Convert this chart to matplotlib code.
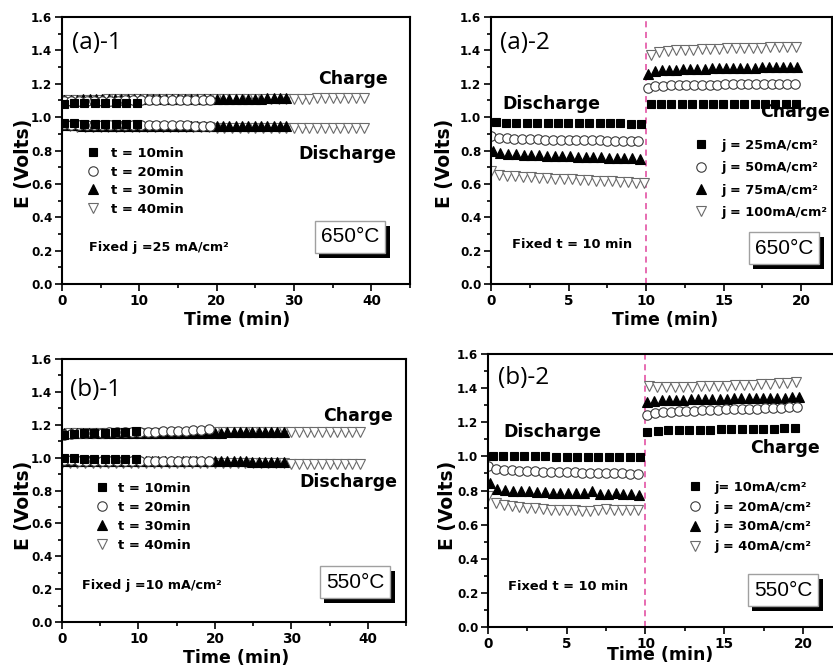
import numpy as np
import matplotlib
matplotlib.use("Agg")
import matplotlib.pyplot as plt
from matplotlib.lines import Line2D
from matplotlib.ticker import MultipleLocator, FormatStrFormatter
import matplotlib.patheffects as pe

# ---------------- DATA ----------------
# Panel (a)-1 : 650 C, fixed j = 25 mA/cm2, different charge/discharge times
A1_LABELS = ["t = 10min", "t = 20min", "t = 30min", "t = 40min"]
A1_T_START = [0.2, 0.2, 0.3, 0.0]
A1_T_STEP = [1.35, 1.0, 0.82, 1.0]
A1_CHARGE = [
    [1.080, 1.082, 1.083, 1.083, 1.084, 1.085, 1.085, 1.086],
    [1.094, 1.096, 1.097, 1.098, 1.098, 1.099, 1.099, 1.099, 1.100, 1.100,
     1.100, 1.100, 1.101, 1.101, 1.101, 1.101, 1.102, 1.102, 1.102, 1.102],
    [1.104, 1.105, 1.105, 1.106, 1.106, 1.106, 1.107, 1.107, 1.107, 1.107,
     1.108, 1.108, 1.108, 1.108, 1.108, 1.109, 1.109, 1.109, 1.109, 1.109,
     1.110, 1.110, 1.110, 1.110, 1.110, 1.110, 1.111, 1.111, 1.111, 1.111,
     1.111, 1.111, 1.112, 1.112, 1.112, 1.112],
    [1.100, 1.102, 1.103, 1.104, 1.105, 1.105, 1.106, 1.106, 1.107, 1.107,
     1.107, 1.108, 1.108, 1.108, 1.108, 1.109, 1.109, 1.109, 1.109, 1.109,
     1.110, 1.110, 1.110, 1.110, 1.110, 1.110, 1.110, 1.110, 1.110, 1.110,
     1.111, 1.111, 1.111, 1.112, 1.112, 1.112, 1.112, 1.113, 1.113, 1.113],
]
A1_DISCHARGE = [
    [0.965, 0.962, 0.961, 0.960, 0.960, 0.959, 0.958, 0.958],
    [0.957, 0.955, 0.954, 0.953, 0.953, 0.952, 0.952, 0.952, 0.951, 0.951,
     0.951, 0.951, 0.950, 0.950, 0.950, 0.950, 0.950, 0.949, 0.949, 0.949],
    [0.951, 0.950, 0.950, 0.949, 0.949, 0.949, 0.948, 0.948, 0.948, 0.948,
     0.947, 0.947, 0.947, 0.947, 0.947, 0.947, 0.947, 0.947, 0.947, 0.947,
     0.946, 0.946, 0.946, 0.946, 0.946, 0.946, 0.946, 0.946, 0.946, 0.946,
     0.945, 0.945, 0.945, 0.945, 0.945, 0.945],
    [0.945, 0.944, 0.943, 0.943, 0.942, 0.942, 0.941, 0.941, 0.941, 0.940,
     0.940, 0.940, 0.939, 0.939, 0.939, 0.939, 0.938, 0.938, 0.938, 0.938,
     0.937, 0.937, 0.937, 0.937, 0.937, 0.936, 0.936, 0.936, 0.936, 0.936,
     0.935, 0.935, 0.935, 0.935, 0.935, 0.934, 0.934, 0.934, 0.933, 0.933],
]

# Panel (b)-1 : 550 C, fixed j = 10 mA/cm2
B1_LABELS = ["t = 10min", "t = 20min", "t = 30min", "t = 40min"]
B1_T_START = [0.2, 0.2, 0.3, 0.0]
B1_T_STEP = [1.35, 1.0, 0.82, 1.0]
B1_CHARGE = [
    [1.140, 1.145, 1.148, 1.150, 1.152, 1.155, 1.158, 1.160],
    [1.140, 1.145, 1.148, 1.150, 1.151, 1.152, 1.153, 1.154, 1.155, 1.155,
     1.156, 1.157, 1.158, 1.159, 1.160, 1.162, 1.164, 1.166, 1.170, 1.172],
    [1.148, 1.149, 1.149, 1.150, 1.150, 1.150, 1.151, 1.151, 1.151, 1.151,
     1.152, 1.152, 1.152, 1.152, 1.152, 1.152, 1.152, 1.152, 1.152, 1.152,
     1.152, 1.152, 1.152, 1.152, 1.152, 1.152, 1.153, 1.153, 1.153, 1.153,
     1.153, 1.153, 1.153, 1.153, 1.153, 1.153],
    [1.145, 1.147, 1.148, 1.149, 1.150, 1.150, 1.151, 1.151, 1.151, 1.152,
     1.152, 1.152, 1.152, 1.152, 1.152, 1.152, 1.152, 1.152, 1.152, 1.152,
     1.153, 1.153, 1.153, 1.153, 1.153, 1.153, 1.153, 1.153, 1.153, 1.153,
     1.154, 1.154, 1.154, 1.154, 1.154, 1.155, 1.155, 1.155, 1.155, 1.155],
]
B1_DISCHARGE = [
    [1.000, 0.995, 0.993, 0.992, 0.991, 0.990, 0.990, 0.989],
    [0.985, 0.983, 0.982, 0.981, 0.981, 0.980, 0.980, 0.980, 0.979, 0.979,
     0.979, 0.979, 0.978, 0.978, 0.978, 0.978, 0.978, 0.977, 0.977, 0.977],
    [0.982, 0.981, 0.981, 0.980, 0.980, 0.980, 0.979, 0.979, 0.979, 0.979,
     0.978, 0.978, 0.978, 0.978, 0.978, 0.978, 0.978, 0.978, 0.978, 0.978,
     0.977, 0.977, 0.977, 0.977, 0.977, 0.977, 0.977, 0.977, 0.977, 0.977,
     0.976, 0.976, 0.976, 0.976, 0.976, 0.976],
    [0.970, 0.969, 0.969, 0.968, 0.968, 0.968, 0.967, 0.967, 0.967, 0.967,
     0.966, 0.966, 0.966, 0.966, 0.966, 0.966, 0.966, 0.966, 0.966, 0.966,
     0.965, 0.965, 0.965, 0.965, 0.965, 0.965, 0.965, 0.965, 0.965, 0.965,
     0.964, 0.964, 0.964, 0.964, 0.964, 0.963, 0.963, 0.963, 0.963, 0.963],
]

# Panel (a)-2 : 650 C, fixed t = 10 min, different current densities
A2_LABELS = ["j = 25mA/cm²", "j = 50mA/cm²", "j = 75mA/cm²", "j = 100mA/cm²"]
A2_D_START = [0.3, 0.0, 0.1, 0.0]
A2_D_STEP = [0.67, 0.5, 0.5, 0.52]
A2_C_START = [10.3, 10.1, 10.1, 10.3]
A2_C_STEP = [0.67, 0.5, 0.46, 0.55]
A2_DISCHARGE = [
    [0.970, 0.965, 0.965, 0.965, 0.965, 0.965, 0.965, 0.965, 0.965, 0.965,
     0.965, 0.965, 0.965, 0.960, 0.960],
    [0.885, 0.875, 0.872, 0.870, 0.868, 0.867, 0.866, 0.865, 0.864, 0.863,
     0.862, 0.862, 0.861, 0.860, 0.860, 0.859, 0.858, 0.858, 0.857, 0.856],
    [0.800, 0.785, 0.780, 0.778, 0.775, 0.773, 0.771, 0.770, 0.768, 0.766,
     0.765, 0.763, 0.762, 0.760, 0.759, 0.757, 0.756, 0.755, 0.754, 0.752],
    [0.675, 0.655, 0.650, 0.646, 0.643, 0.640, 0.637, 0.635, 0.632, 0.630,
     0.627, 0.625, 0.622, 0.620, 0.617, 0.615, 0.612, 0.610, 0.607, 0.605],
]
A2_CHARGE = [
    [1.080, 1.080, 1.080, 1.080, 1.080, 1.080, 1.080, 1.080, 1.080, 1.080,
     1.080, 1.080, 1.080, 1.080, 1.080],
    [1.175, 1.185, 1.188, 1.190, 1.191, 1.192, 1.193, 1.194, 1.195, 1.195,
     1.196, 1.196, 1.197, 1.197, 1.198, 1.198, 1.199, 1.199, 1.200, 1.200],
    [1.260, 1.275, 1.280, 1.283, 1.285, 1.287, 1.289, 1.290, 1.291, 1.292,
     1.293, 1.294, 1.295, 1.296, 1.297, 1.297, 1.298, 1.299, 1.300, 1.300,
     1.301, 1.302],
    [1.375, 1.390, 1.395, 1.400, 1.403, 1.405, 1.407, 1.409, 1.410, 1.412,
     1.413, 1.414, 1.416, 1.417, 1.418, 1.420, 1.421, 1.423],
]

# Panel (b)-2 : 550 C, fixed t = 10 min
B2_LABELS = ["j= 10mA/cm²", "j = 20mA/cm²", "j = 30mA/cm²", "j = 40mA/cm²"]
B2_D_START = [0.3, 0.0, 0.1, 0.0]
B2_D_STEP = [0.67, 0.5, 0.5, 0.5]
B2_C_START = [10.1, 10.1, 10.1, 10.2]
B2_C_STEP = [0.67, 0.5, 0.46, 0.55]
B2_DISCHARGE = [
    [1.005, 1.000, 1.000, 1.000, 1.000, 1.000, 0.998, 0.998, 0.997, 0.997,
     0.996, 0.996, 0.995, 0.995, 0.994],
    [0.945, 0.925, 0.920, 0.918, 0.916, 0.914, 0.912, 0.911, 0.910, 0.909,
     0.907, 0.906, 0.905, 0.904, 0.903, 0.902, 0.901, 0.900, 0.899, 0.895],
    [0.845, 0.810, 0.805, 0.800, 0.797, 0.795, 0.792, 0.790, 0.788, 0.787,
     0.786, 0.785, 0.786, 0.795, 0.782, 0.780, 0.785, 0.780, 0.778, 0.776],
    [0.765, 0.725, 0.715, 0.710, 0.705, 0.700, 0.695, 0.690, 0.688, 0.686,
     0.684, 0.683, 0.682, 0.681, 0.683, 0.690, 0.688, 0.686, 0.685, 0.685],
]
B2_CHARGE = [
    [1.140, 1.150, 1.152, 1.154, 1.155, 1.156, 1.157, 1.158, 1.159, 1.160,
     1.161, 1.162, 1.163, 1.164, 1.165],
    [1.245, 1.255, 1.260, 1.262, 1.264, 1.266, 1.268, 1.270, 1.272, 1.273,
     1.275, 1.276, 1.278, 1.279, 1.280, 1.282, 1.283, 1.285, 1.287, 1.290],
    [1.320, 1.327, 1.330, 1.331, 1.332, 1.333, 1.334, 1.335, 1.336, 1.337,
     1.338, 1.339, 1.340, 1.340, 1.341, 1.342, 1.342, 1.343, 1.344, 1.345,
     1.346, 1.347],
    [1.410, 1.405, 1.405, 1.406, 1.407, 1.408, 1.410, 1.412, 1.413, 1.415,
     1.417, 1.419, 1.421, 1.423, 1.426, 1.429, 1.432, 1.438],
]

# ---------------- STYLE ----------------
W, H = 833, 668
BOLD = "DejaVu Sans"
STYLES = [
    dict(marker="s", mfc="black", mec="black", ms=6.0),
    dict(marker="o", mfc="white", mec="#3a3a3a", ms=6.8),
    dict(marker="^", mfc="black", mec="black", ms=6.6),
    dict(marker="v", mfc="white", mec="#6a6a6a", ms=7.0),
]

fig = plt.figure(figsize=(W / 100, H / 100), dpi=100)


def make_axes(left, right, top, bottom, xmax, xmajor):
    ax = fig.add_axes([left / W, 1 - bottom / H, (right - left) / W, (bottom - top) / H])
    ax.set_xlim(0, xmax)
    ax.set_ylim(0, 1.6)
    ax.xaxis.set_major_locator(MultipleLocator(xmajor))
    ax.xaxis.set_minor_locator(MultipleLocator(xmajor / 2))
    ax.yaxis.set_major_locator(MultipleLocator(0.2))
    ax.yaxis.set_minor_locator(MultipleLocator(0.1))
    ax.yaxis.set_major_formatter(FormatStrFormatter("%.1f"))
    for s in ax.spines.values():
        s.set_linewidth(1.5)
    ax.tick_params(which="both", direction="out", top=False, right=False, width=1.2)
    ax.tick_params(which="major", length=5)
    ax.tick_params(which="minor", length=3)
    ax.tick_params(axis="x", labelsize=9.8, pad=2.5)
    ax.tick_params(axis="y", labelsize=8.6, pad=2)
    for lab in ax.get_xticklabels() + ax.get_yticklabels():
        lab.set_fontfamily(BOLD)
        lab.set_fontweight("bold")
    ax.set_xlabel("Time (min)", fontfamily=BOLD, fontweight="bold", fontsize=12.5, va="center")
    ax.set_ylabel("E (Volts)", fontfamily=BOLD, fontweight="bold", fontsize=13.5, va="center")
    ax.axes_px = (left, right, top, bottom)
    return ax


def to_ax(ax, x, y):
    l, r, t, b = ax.axes_px
    return (x - l) / (r - l), (b - y) / (b - t)


def series_time(start, step, n):
    return start + step * np.arange(n)


def draw(ax, t, vals, st):
    ax.plot(t, vals, ls="none", marker=st["marker"], ms=st["ms"],
            mfc=st["mfc"], mec=st["mec"], mew=0.8)


def plot_panel1(ax, starts, steps, charge, discharge):
    for i in [3, 2, 1, 0]:
        for vals in (charge[i], discharge[i]):
            draw(ax, series_time(starts[i], steps[i], len(vals)), vals, STYLES[i])


def plot_panel2(ax, dstart, dstep, cstart, cstep, dis, chg):
    for i in [3, 2, 1, 0]:
        for vals, s0, ds in ((dis[i], dstart[i], dstep[i]), (chg[i], cstart[i], cstep[i])):
            draw(ax, series_time(s0, ds, len(vals)), vals, STYLES[i])
    ax.axvline(10, color="#e0449c", ls=(0, (4, 3)), lw=1.1, zorder=0)


def add_legend(ax, labels, mx, ty, fs, hpad, lsp):
    handles = [Line2D([], [], ls="none", marker=s["marker"], ms=s["ms"], mfc=s["mfc"],
                      mec=s["mec"], mew=0.8) for s in STYLES]
    em = fs * 100 / 72.0
    ax_x, ax_y = to_ax(ax, mx - 0.5 * em, ty)
    ax.legend(handles, labels, loc="upper left", bbox_to_anchor=(ax_x, ax_y),
              frameon=False, borderpad=0, borderaxespad=0, handlelength=1.0,
              handletextpad=hpad, labelspacing=lsp, numpoints=1,
              prop=dict(family=BOLD, weight="bold", size=fs))


def fig_text(x, y, s, **kw):
    fig.text(x / W, 1 - y / H, s, **kw)


def bold_text(x, y, s, size, **kw):
    fig_text(x, y, s, fontsize=size, fontfamily=BOLD, fontweight="bold", va="center", **kw)


def temp_box(x, y, s):
    t = fig.text(x / W, 1 - y / H, s, ha="center", va="center", fontsize=15,
                 fontfamily="Liberation Sans",
                 bbox=dict(boxstyle="square,pad=0.3", fc="white", ec="#a0a0a0", lw=1.0))
    t.get_bbox_patch().set_path_effects(
        [pe.SimplePatchShadow(offset=(3.5, -3.5), shadow_rgbFace="black", alpha=1.0),
         pe.Normal()])


PANEL_FS = 17.5

# ---------------- (a)-1 ----------------
ax1 = make_axes(62, 410, 17, 284, 45, 10)
plot_panel1(ax1, A1_T_START, A1_T_STEP, A1_CHARGE, A1_DISCHARGE)
add_legend(ax1, A1_LABELS, 93, 147, 9.5, 0.9, 0.42)
ax1.yaxis.set_label_coords(-0.112, 0.45)
ax1.xaxis.set_label_coords(0.503, -0.135)
fig_text(72, 43, "(a)-1", fontsize=PANEL_FS, fontfamily="Open Sans", va="center")
bold_text(353, 79, "Charge", 12.5, ha="center")
bold_text(347, 154, "Discharge", 12.5, ha="center")
bold_text(89, 247, "Fixed j =25 mA/cm²", 9.2)
temp_box(350, 237, "650°C")

# ---------------- (a)-2 ----------------
ax2 = make_axes(491, 832, 17, 284, 22, 5)
plot_panel2(ax2, A2_D_START, A2_D_STEP, A2_C_START, A2_C_STEP, A2_DISCHARGE, A2_CHARGE)
add_legend(ax2, A2_LABELS, 701, 139, 9.3, 1.05, 0.72)
ax2.yaxis.set_label_coords(-0.135, 0.45)
ax2.xaxis.set_label_coords(0.51, -0.135)
fig_text(500, 43, "(a)-2", fontsize=PANEL_FS, fontfamily="Open Sans", va="center")
bold_text(502, 104, "Discharge", 12.5)
bold_text(830, 112, "Charge", 12.5, ha="right")
bold_text(572, 244, "Fixed t = 10 min", 9.4, ha="center")
temp_box(784, 248, "650°C")

# ---------------- (b)-1 ----------------
ax3 = make_axes(62, 406, 359, 622, 45, 10)
plot_panel1(ax3, B1_T_START, B1_T_STEP, B1_CHARGE, B1_DISCHARGE)
add_legend(ax3, B1_LABELS, 102, 482, 9.5, 0.7, 0.45)
ax3.yaxis.set_label_coords(-0.113, 0.445)
ax3.xaxis.set_label_coords(0.507, -0.137)
fig_text(70, 390, "(b)-1", fontsize=PANEL_FS, fontfamily="Open Sans", va="center")
bold_text(358, 416, "Charge", 12.5, ha="center")
bold_text(348, 482, "Discharge", 12.5, ha="center")
bold_text(82, 586, "Fixed j =10 mA/cm²", 9.2)
temp_box(355, 582, "550°C")

# ---------------- (b)-2 ----------------
ax4 = make_axes(488, 834.5, 354, 627, 22, 5)
plot_panel2(ax4, B2_D_START, B2_D_STEP, B2_C_START, B2_C_STEP, B2_DISCHARGE, B2_CHARGE)
add_legend(ax4, B2_LABELS, 695, 481, 9.3, 1.0, 0.52)
ax4.yaxis.set_label_coords(-0.118, 0.447)
ax4.xaxis.set_label_coords(0.497, -0.103)
fig_text(498, 378, "(b)-2", fontsize=PANEL_FS, fontfamily="Open Sans", va="center")
bold_text(503, 432, "Discharge", 12.5)
bold_text(820, 448, "Charge", 12.5, ha="right")
bold_text(568, 587, "Fixed t = 10 min", 9.4, ha="center")
temp_box(783, 590, "550°C")

fig.savefig("out.png", dpi=100)
